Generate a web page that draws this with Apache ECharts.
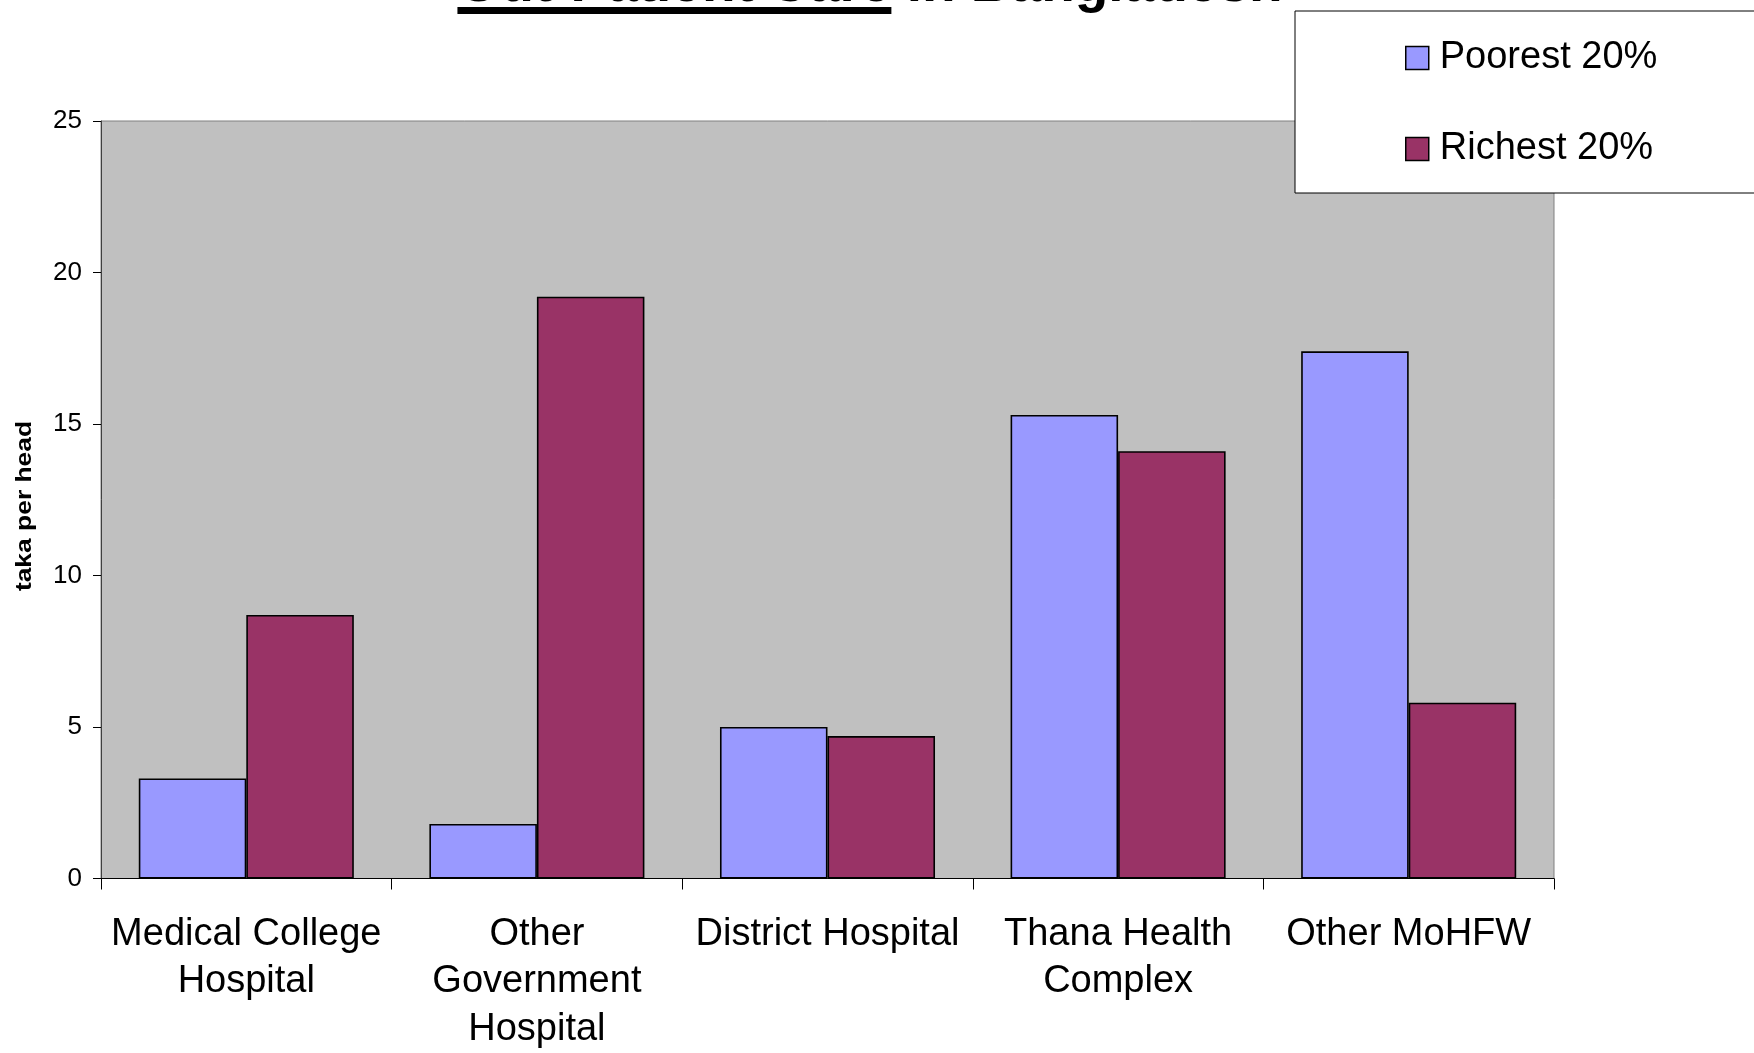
<!DOCTYPE html>
<html>
<head>
<meta charset="utf-8">
<title>Out-Patient Care in Bangladesh</title>
<script src="https://cdn.jsdelivr.net/npm/echarts@6/dist/echarts.min.js"></script>
<style>
  html, body { margin: 0; padding: 0; background: #fff; }
  #chart { width: 1754px; height: 1053px; }
</style>
</head>
<body>
<div id="chart"></div>
<script>
// Public spending on out-patient care per head, by facility type and income group
const categories = [
  'Medical College\nHospital',
  'Other\nGovernment\nHospital',
  'District Hospital',
  'Thana Health\nComplex',
  'Other MoHFW'
];
const poorest = [3.3, 1.8, 5.0, 15.3, 17.4];
const richest = [8.7, 19.2, 4.7, 14.1, 5.8];
const seriesNames = ['Poorest 20%', 'Richest 20%'];
const yTicks = { min: 0, max: 25, interval: 5 };

const FONT = '"Liberation Sans", Arial, Helvetica, sans-serif';
const chart = echarts.init(document.getElementById('chart'), null, { renderer: 'canvas' });

// Title: underlined first part followed by plain text, laid out from measured widths
const titleA = 'Out-Patient Care';
const titleB = ' in Bangladesh';
const titleSize = 55;
const ctx = document.createElement('canvas').getContext('2d');
ctx.font = 'bold ' + titleSize + 'px ' + FONT;
const wA = ctx.measureText(titleA).width;
const wB = ctx.measureText(titleB).width;
const titleCenter = 870;
const titleX = titleCenter - (wA + wB) / 2;
const titleMidY = -14;

const barBorder = { borderColor: '#000', borderWidth: 1.6 };

chart.setOption({
  animation: false,
  backgroundColor: '#fff',
  grid: {
    left: 101, top: 121, right: 200, bottom: 171,
    show: true, backgroundColor: '#c0c0c0', borderColor: '#808080', borderWidth: 1
  },
  legend: {
    left: 1295, top: 11,
    orient: 'vertical',
    padding: [25, 160, 22, 110],
    itemGap: 47,
    itemWidth: 23, itemHeight: 23,
    backgroundColor: '#fff',
    borderColor: '#000', borderWidth: 1,
    icon: 'rect',
    itemStyle: { borderColor: '#000', borderWidth: 1.5 },
    textStyle: { fontFamily: FONT, fontSize: 38, color: '#000', lineHeight: 44, padding: [0, 0, 0, 6] },
    data: seriesNames
  },
  xAxis: {
    type: 'category',
    data: categories,
    axisLine: { lineStyle: { color: '#000', width: 1 } },
    axisTick: { show: true, length: 11, alignWithLabel: false, lineStyle: { color: '#000' } },
    axisLabel: {
      fontFamily: FONT, fontSize: 38, color: '#000', lineHeight: 47.5, margin: 32, interval: 0
    },
    splitLine: { show: false }
  },
  yAxis: {
    type: 'value',
    min: yTicks.min, max: yTicks.max, interval: yTicks.interval,
    axisLine: { show: true, lineStyle: { color: '#404040', width: 1 } },
    axisTick: { show: true, length: 8, inside: false, lineStyle: { color: '#000' } },
    axisLabel: { fontFamily: FONT, fontSize: 26, color: '#000', margin: 19 },
    splitLine: { show: false }
  },
  series: [
    {
      name: seriesNames[0], type: 'bar', data: poorest,
      barGap: '0%', barCategoryGap: '26%',
      itemStyle: Object.assign({ color: '#9999ff' }, barBorder)
    },
    {
      name: seriesNames[1], type: 'bar', data: richest,
      barGap: '0%', barCategoryGap: '26%',
      itemStyle: Object.assign({ color: '#993366' }, barBorder)
    }
  ],
  graphic: [
    {
      type: 'text', x: titleX, y: titleMidY,
      style: {
        text: titleA, font: 'bold ' + titleSize + 'px ' + FONT,
        fill: '#000', textAlign: 'left', textVerticalAlign: 'middle'
      }
    },
    {
      type: 'text', x: titleX + wA, y: titleMidY,
      style: {
        text: titleB, font: 'bold ' + titleSize + 'px ' + FONT,
        fill: '#000', textAlign: 'left', textVerticalAlign: 'middle'
      }
    },
    {
      type: 'rect', x: titleX, y: 7,
      shape: { x: 0, y: 0, width: wA, height: 7 },
      style: { fill: '#000' }
    },
    {
      // Axis title, drawn reading bottom-to-top and slightly stretched along its length
      type: 'text', x: 25, y: 506, rotation: Math.PI / 2, scaleX: 1.2, scaleY: 1,
      style: {
        text: 'taka per head', font: 'bold 22px ' + FONT,
        fill: '#000', textAlign: 'center', textVerticalAlign: 'middle'
      }
    }
  ]
});
</script>
</body>
</html>
